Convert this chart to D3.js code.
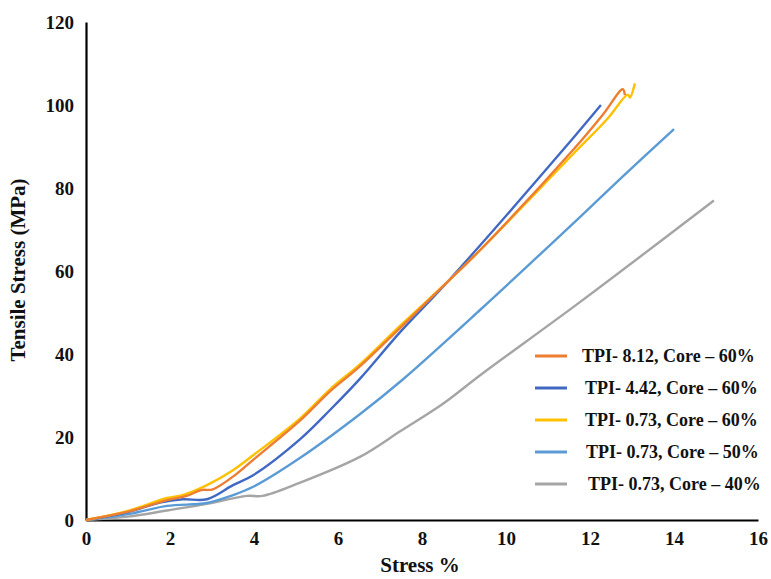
<!DOCTYPE html>
<html><head><meta charset="utf-8">
<script src="https://cdn.jsdelivr.net/npm/d3@7"></script>
<style>body{margin:0;background:#fff}svg{display:block}</style>
</head><body>
<svg id="c" width="771" height="579"></svg>
<script>
const seriesNames = ["TPI- 8.12, Core \u2013 60%","TPI- 4.42, Core \u2013 60%","TPI- 0.73, Core \u2013 60%","TPI- 0.73, Core \u2013 50%","TPI- 0.73, Core \u2013 40%"];
const seriesColors = ["#ED7D31","#4169C4","#FFC000","#5B9BD5","#A5A5A5"];
const xTicks = [0,2,4,6,8,10,12,14,16];
const yTicks = [0,20,40,60,80,100,120];
const orangeX = [0,1,1.93,2.4,2.74,3.02,3.57,3.98,5.1,5.81,6.52,7.5,8.6,9.38,11.6,12.3,12.78,12.83];
const orangeY = [0,2,4.8,5.8,7.2,7.4,11,14.5,24,31,37,46.5,57.3,65,89.2,97.6,103.8,102.4];
const darkBlueX = [0,1,1.76,2.3,2.88,3.5,3.98,5.1,5.81,6.52,7.5,8.6,11.36,12.26];
const darkBlueY = [0,1.9,4.2,5.0,5.0,8.4,10.8,19.5,26.5,34,45.5,57.3,89.2,100];
const yellowX = [0,1,1.93,2.3,2.88,3.5,3.98,5.1,5.81,6.52,7.5,8.6,9.38,11.6,12.4,12.9,12.95,13.07];
const yellowY = [0,2.2,5.3,6,8.4,12,15.6,24.5,31.5,37.5,47,57.3,65,88.2,96.5,102.5,101.8,105.2];
const lightBlueX = [0,1,1.93,2.88,3.5,3.98,5.1,6.52,7.5,9.38,11.76,12.7,14.0];
const lightBlueY = [0,1.4,3.4,4.1,6,8,15,25.5,33.5,50.6,73,82,94.2];
const grayX = [0,1,1.93,2.88,3.83,4.2,5.1,6.52,7.5,8.5,9.4,11.76,14.95];
const grayY = [0,0.8,2.3,3.9,5.8,5.8,9,15.2,21.5,28,35,52.5,77];

const seriesX = [orangeX, darkBlueX, yellowX, lightBlueX, grayX];
const seriesY = [orangeY, darkBlueY, yellowY, lightBlueY, grayY];

const svg = d3.select("#c");
const x = d3.scaleLinear().domain([0,16]).range([86,758]);
const y = d3.scaleLinear().domain([0,120]).range([520,22]);
const font = "'Liberation Serif','Times New Roman',serif";

const xa = svg.append("g").attr("transform","translate(0,520)")
  .call(d3.axisBottom(x).tickValues(xTicks).tickSize(0).tickPadding(12).tickFormat(d3.format("d")));
xa.select(".domain").attr("stroke","#000").attr("stroke-width",2.2);
xa.selectAll("text").attr("font-family",font).attr("font-weight","bold").attr("font-size",19).attr("fill","#111");
const ya = svg.append("g").attr("transform","translate(86,0)")
  .call(d3.axisLeft(y).tickValues(yTicks).tickSize(0).tickPadding(12).tickFormat(d3.format("d")));
ya.select(".domain").attr("stroke","#000").attr("stroke-width",2.2);
ya.selectAll("text").attr("font-family",font).attr("font-weight","bold").attr("font-size",19).attr("fill","#111");

const line = d3.line().curve(d3.curveCatmullRom.alpha(0.5)).x(d=>x(d[0])).y(d=>y(d[1]));
const order = [4,3,1,2,0];
order.forEach(i=>{
  const pts = seriesX[i].map((v,j)=>[v, seriesY[i][j]]);
  svg.append("path").datum(pts).attr("d",line).attr("fill","none")
    .attr("stroke",seriesColors[i]).attr("stroke-width",2.4).attr("stroke-linejoin","round");
});

svg.append("text").attr("x",420).attr("y",572).attr("text-anchor","middle")
  .attr("font-family",font).attr("font-weight","bold").attr("font-size",21).attr("fill","#111").text("Stress %");
svg.append("text").attr("transform","translate(25,270) rotate(-90)").attr("text-anchor","middle")
  .attr("font-family",font).attr("font-weight","bold").attr("font-size",21).attr("fill","#111").text("Tensile Stress (MPa)");

const lg = svg.append("g");
seriesNames.forEach((n,i)=>{
  const yy = 356 + i*32;
  lg.append("line").attr("x1",535).attr("x2",567).attr("y1",yy).attr("y2",yy)
    .attr("stroke",seriesColors[i]).attr("stroke-width",3);
  lg.append("text").attr("x",582 + [0,3,3,4,6][i]).attr("y",yy+6)
    .attr("font-family",font).attr("font-weight","bold").attr("font-size",18).attr("fill","#111").text(n);
});
</script>
</body></html>
